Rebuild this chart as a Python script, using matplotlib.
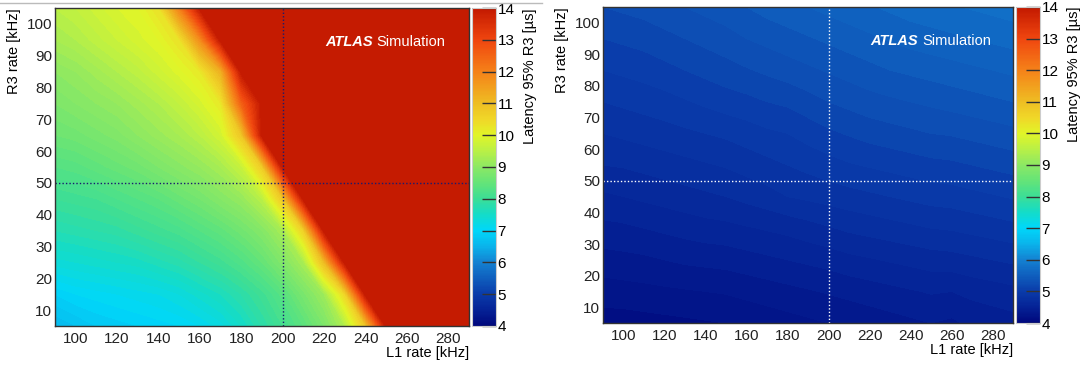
import numpy as np
import matplotlib.pyplot as plt
from matplotlib.colors import LinearSegmentedColormap, Normalize
from matplotlib.cm import ScalarMappable
from matplotlib.lines import Line2D

plt.rcParams['font.family'] = ['Liberation Sans', 'DejaVu Sans']

# grid of the scan
l1_rate = [90, 100, 110, 120, 130, 140, 150, 160, 170, 180, 190,
           200, 210, 220, 230, 240, 250, 260, 270, 280, 290]
r3_rate = [5, 15, 25, 35, 45, 55, 65, 75, 85, 95, 105]

# latency 95% R3 [us], left plot (rows = R3 rate, cols = L1 rate)
lat_left = [
    [6.6, 6.7, 6.8, 6.85, 6.9, 6.95, 7.0, 7.1, 7.25, 7.5, 7.8, 8.1, 8.4, 8.8, 9.4, 10.8, 16, 20, 20, 20, 20],
    [6.9, 7.0, 7.05, 7.1, 7.15, 7.2, 7.3, 7.45, 7.6, 7.8, 8.05, 8.35, 8.75, 9.2, 10.5, 16, 20, 20, 20, 20, 20],
    [7.35, 7.4, 7.45, 7.5, 7.55, 7.65, 7.75, 7.9, 8.05, 8.25, 8.5, 8.85, 9.3, 11.0, 16, 20, 20, 20, 20, 20, 20],
    [7.7, 7.75, 7.8, 7.85, 7.95, 8.05, 8.15, 8.3, 8.45, 8.65, 8.9, 9.3, 10.6, 15, 18, 20, 20, 20, 20, 20, 20],
    [8.0, 8.05, 8.1, 8.2, 8.3, 8.4, 8.55, 8.7, 8.9, 9.1, 9.5, 10.8, 15, 18, 20, 20, 20, 20, 20, 20, 20],
    [8.3, 8.35, 8.45, 8.55, 8.65, 8.8, 8.95, 9.1, 9.3, 9.65, 10.7, 14, 17, 20, 20, 20, 20, 20, 20, 20, 20],
    [8.6, 8.65, 8.75, 8.85, 9.0, 9.15, 9.3, 9.5, 9.8, 10.8, 14, 17, 20, 20, 20, 20, 20, 20, 20, 20, 20],
    [8.8, 8.9, 9.0, 9.1, 9.25, 9.4, 9.6, 9.85, 10.2, 12.5, 16, 20, 20, 20, 20, 20, 20, 20, 20, 20, 20],
    [9.0, 9.1, 9.25, 9.4, 9.55, 9.75, 9.95, 10.2, 11.2, 15, 18, 20, 20, 20, 20, 20, 20, 20, 20, 20, 20],
    [9.3, 9.4, 9.55, 9.7, 9.85, 10.0, 10.3, 11.8, 16, 20, 20, 20, 20, 20, 20, 20, 20, 20, 20, 20, 20],
    [9.5, 9.6, 9.75, 9.9, 10.0, 10.3, 12.0, 16, 20, 20, 20, 20, 20, 20, 20, 20, 20, 20, 20, 20, 20],
]

# latency 95% R3 [us], right plot
lat_right = [
    [4.15, 4.15, 4.16, 4.17, 4.18, 4.19, 4.20, 4.22, 4.24, 4.26, 4.28, 4.30, 4.32, 4.34, 4.36, 4.38, 4.40, 4.38, 4.42, 4.44, 4.46],
    [4.25, 4.26, 4.27, 4.28, 4.29, 4.30, 4.31, 4.33, 4.35, 4.37, 4.39, 4.41, 4.43, 4.45, 4.47, 4.49, 4.51, 4.50, 4.53, 4.55, 4.57],
    [4.36, 4.37, 4.38, 4.40, 4.42, 4.43, 4.44, 4.46, 4.48, 4.50, 4.52, 4.54, 4.57, 4.59, 4.61, 4.63, 4.65, 4.66, 4.68, 4.70, 4.72],
    [4.47, 4.48, 4.50, 4.52, 4.54, 4.56, 4.57, 4.59, 4.61, 4.63, 4.66, 4.69, 4.72, 4.74, 4.76, 4.78, 4.80, 4.81, 4.83, 4.85, 4.87],
    [4.58, 4.60, 4.62, 4.64, 4.66, 4.68, 4.70, 4.73, 4.76, 4.80, 4.82, 4.84, 4.86, 4.88, 4.90, 4.92, 4.94, 4.95, 4.97, 4.99, 5.01],
    [4.70, 4.71, 4.73, 4.75, 4.77, 4.79, 4.81, 4.84, 4.87, 4.90, 4.93, 4.96, 4.99, 5.01, 5.03, 5.05, 5.07, 5.08, 5.10, 5.12, 5.14],
    [4.80, 4.82, 4.84, 4.86, 4.88, 4.90, 4.92, 4.95, 4.98, 5.00, 5.04, 5.08, 5.11, 5.14, 5.16, 5.18, 5.20, 5.21, 5.23, 5.25, 5.27],
    [4.90, 4.92, 4.94, 4.96, 4.99, 5.02, 5.05, 5.07, 5.10, 5.12, 5.16, 5.20, 5.23, 5.26, 5.28, 5.30, 5.32, 5.34, 5.36, 5.38, 5.40],
    [5.00, 5.02, 5.04, 5.07, 5.10, 5.13, 5.16, 5.19, 5.22, 5.25, 5.28, 5.31, 5.34, 5.37, 5.40, 5.42, 5.44, 5.46, 5.48, 5.50, 5.52],
    [5.10, 5.12, 5.14, 5.17, 5.20, 5.23, 5.26, 5.30, 5.33, 5.36, 5.39, 5.42, 5.45, 5.48, 5.51, 5.54, 5.56, 5.58, 5.60, 5.62, 5.64],
    [5.20, 5.22, 5.24, 5.27, 5.30, 5.33, 5.36, 5.40, 5.44, 5.47, 5.50, 5.53, 5.56, 5.59, 5.62, 5.65, 5.67, 5.69, 5.71, 5.73, 5.75],
]

z_min, z_max = 4, 14
l1_ref, r3_ref = 200, 50

# palette like the ROOT one in the picture
pal_nodes = [
    (4.0, (0, 8, 125)), (4.5, (5, 35, 150)), (5.0, (10, 60, 170)),
    (6.0, (20, 130, 210)), (6.5, (10, 180, 235)), (7.0, (0, 215, 250)),
    (7.5, (20, 220, 200)), (8.0, (60, 222, 150)), (8.5, (100, 228, 120)),
    (9.0, (140, 232, 100)), (9.5, (185, 240, 70)), (10.0, (225, 245, 40)),
    (10.5, (240, 215, 40)), (11.0, (238, 190, 35)), (12.0, (245, 130, 25)),
    (13.0, (240, 70, 15)), (14.0, (195, 25, 0)),
]
cmap = LinearSegmentedColormap.from_list(
    'root', [((v - z_min) / (z_max - z_min), tuple(c / 255 for c in rgb)) for v, rgb in pal_nodes])
norm = Normalize(z_min, z_max)

fig = plt.figure(figsize=(10.83, 3.65), dpi=100)

# thin grey line at the very top of the left half
fig.add_artist(Line2D([0, 0.5], [0.993, 0.993], color='#bbbbbb', lw=1))

panels = [
    (lat_left, [0.0508, 0.107, 0.3823, 0.871], [0.4358, 0.107, 0.0222, 0.871], '#1a1a6e'),
    (lat_right, [0.5568, 0.115, 0.3786, 0.866], [0.9381, 0.115, 0.0222, 0.866], 'white'),
]

for lat, ax_box, cb_box, ref_color in panels:
    ax = fig.add_axes(ax_box)
    z = np.clip(np.array(lat), z_min, z_max)
    ax.contourf(l1_rate, r3_rate, z, levels=np.linspace(z_min, z_max, 101),
                cmap=cmap, norm=norm)
    ax.set_xlim(90, 290)
    ax.set_ylim(5, 105)
    ax.set_xticks(range(100, 290, 20))
    ax.set_yticks(range(10, 101, 10))
    ax.tick_params(length=0, labelsize=11, colors='#222222')
    ax.tick_params(axis='x', pad=4)
    ax.tick_params(axis='y', pad=2)
    for s in ax.spines.values():
        s.set_color('#333333')
        s.set_linewidth(1)
    ax.axvline(l1_ref, color=ref_color, ls=(0, (1, 1.5)), lw=1)
    ax.axhline(r3_ref, color=ref_color, ls=(0, (1, 1.5)), lw=1)
    ax.set_xlabel('L1 rate [kHz]', loc='right', fontsize=10.5, labelpad=0)
    ax.set_ylabel('R3 rate [kHz]', loc='top', fontsize=10.5, labelpad=4)
    t1 = ax.text(0.652, 0.893, 'ATLAS', transform=ax.transAxes, color='white',
                 fontsize=10.5, fontweight='bold', fontstyle='italic', va='center')
    ax.annotate('Simulation', xy=(1, 0.5), xycoords=t1, xytext=(3, 0),
                textcoords='offset points', color='white', fontsize=10.5,
                va='center')

    cax = fig.add_axes(cb_box)
    cb = fig.colorbar(ScalarMappable(norm=norm, cmap=cmap), cax=cax,
                      ticks=range(z_min, z_max + 1))
    cb.outline.set_edgecolor('#cccccc')
    cb.outline.set_linewidth(0.8)
    cax.tick_params(direction='in', length=10, width=1, color='#333333',
                    labelsize=11, pad=1)
    cb.set_label('Latency 95% R3 [µs]', loc='top', fontsize=10.5, labelpad=6)

fig.savefig('out.png', dpi=100)
